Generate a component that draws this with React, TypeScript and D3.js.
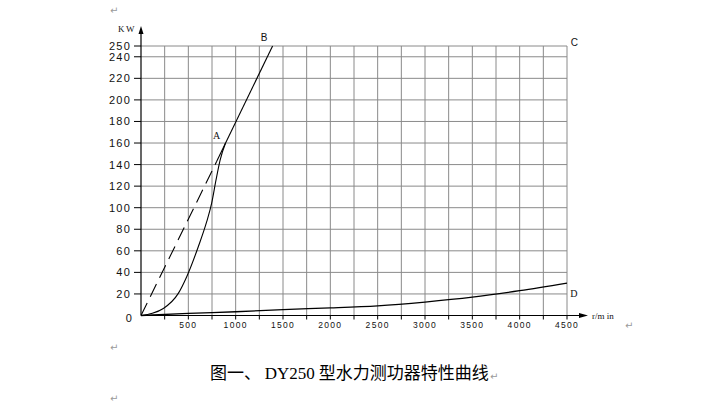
import React from "react";
import * as d3 from "d3";

// ---- data ----
const yTicks = [0, 20, 40, 60, 80, 100, 120, 140, 160, 180, 200, 220, 240, 250];
const yGrid = [20, 40, 60, 80, 100, 120, 140, 160, 180, 200, 220, 240, 250];
const xLabels = [500, 1000, 1500, 2000, 2500, 3000, 3500, 4000, 4500];
const xGrid = d3.range(250, 4501, 250);

// line O-A (dashed) then A-B (solid)
const lineDashRpm = [0, 800];
const lineDashKw = [0, 143];
const lineSolidRpm = [800, 1390];
const lineSolidKw = [143, 250];

// characteristic curve O-A
const curveRpm = [0, 120, 236, 394, 483, 606, 694, 746, 792, 835, 893];
const curveKw = [0, 2, 6.5, 20.5, 36, 64, 87, 104, 125.5, 144, 160];

// minimum load line O-D
const lowRpm = [0, 500, 1000, 1500, 2000, 2500, 3000, 3500, 4000, 4500];
const lowKw = [0, 2, 3.5, 5.5, 7, 9, 12.5, 17, 23, 30];

const pointLabels = [
  { t: "A", rpm: 760, kw: 164 },
  { t: "B", rpm: 1265, kw: 255 },
  { t: "C", rpm: 4540, kw: 250 },
  { t: "D", rpm: 4535, kw: 17 },
];

const caption1 = "图一、 ";
const caption2 = "DY250";
const caption3 = " 型水力测功器特性曲线";

export default function App() {
  const x = d3.scaleLinear().domain([0, 4500]).range([141, 567]);
  const y = d3.scaleLinear().domain([0, 250]).range([315.5, 46]);
  const mk = (rs: number[], ks: number[]) => rs.map((r, i) => [r, ks[i]] as [number, number]);
  const straight = d3.line<[number, number]>().x((d) => x(d[0])).y((d) => y(d[1]));
  const smooth = d3
    .line<[number, number]>()
    .x((d) => x(d[0]))
    .y((d) => y(d[1]))
    .curve(d3.curveMonotoneX);

  const grid = "#8a8a8a";
  const ret = "#9a9a9a";
  return (
    <svg
      width={712}
      height={404}
      style={{ position: "absolute", left: 0, top: 0, background: "#fff" }}
      fontFamily="'Liberation Sans', Arial, sans-serif"
    >
      {/* grid */}
      {xGrid.map((v) => (
        <line key={"gx" + v} x1={x(v)} x2={x(v)} y1={y(250)} y2={y(0)} stroke={grid} strokeWidth={1} />
      ))}
      {yGrid.map((v) => (
        <line key={"gy" + v} x1={x(0)} x2={x(4500)} y1={y(v)} y2={y(v)} stroke={grid} strokeWidth={1} />
      ))}
      {/* axes */}
      <line x1={x(0)} x2={x(0)} y1={y(0)} y2={30} stroke="#000" strokeWidth={1.2} />
      <path d={`M${x(0) - 2.5},${34} L${x(0)},${26} L${x(0) + 2.5},${34} Z`} fill="#000" />
      <line x1={x(0)} x2={583} y1={y(0)} y2={y(0)} stroke="#000" strokeWidth={1.2} />
      <path d={`M${579},${y(0) - 2.5} L${588},${y(0)} L${579},${y(0) + 2.5} Z`} fill="#000" />
      {/* y ticks */}
      {yTicks.map((v) =>
        v === 0 ? null : (
          <line key={"ty" + v} x1={x(0) - 7} x2={x(0)} y1={y(v)} y2={y(v)} stroke="#000" strokeWidth={1} />
        )
      )}
      {yTicks.map((v) => (
        <text
          key={"ly" + v}
          x={v === 0 ? 133 : 131}
          y={y(v) + (v === 0 ? 6 : 4)}
          textAnchor="end"
          fontSize={11}
          letterSpacing={1.2}
          fill="#111"
        >
          {v}
        </text>
      ))}
      {/* x ticks */}
      {xGrid.map((v) => (
        <line key={"tx" + v} x1={x(v)} x2={x(v)} y1={y(0)} y2={y(0) + 4} stroke="#000" strokeWidth={1} />
      ))}
      {xLabels.map((v) => (
        <text
          key={"lx" + v}
          x={x(v)}
          y={y(0) + 12}
          textAnchor="middle"
          fontSize={8.5}
          letterSpacing={1.3}
          fill="#111"
        >
          {v}
        </text>
      ))}
      <text x={118} y={32} fontSize={9} letterSpacing={1.5} fontFamily="'Liberation Serif', serif" fill="#111">
        KW
      </text>
      <text x={592} y={y(0) + 3} fontSize={9} fontFamily="'Liberation Serif', serif" fill="#111">
        r/m in
      </text>
      {/* curves */}
      <path d={straight(mk(lineDashRpm, lineDashKw)) || ""} fill="none" stroke="#000" strokeWidth={1.1} strokeDasharray="14,7" />
      <path d={straight(mk(lineSolidRpm, lineSolidKw)) || ""} fill="none" stroke="#000" strokeWidth={1.1} />
      <path d={smooth(mk(curveRpm, curveKw)) || ""} fill="none" stroke="#000" strokeWidth={1.1} />
      <path d={smooth(mk(lowRpm, lowKw)) || ""} fill="none" stroke="#000" strokeWidth={1.3} />
      {pointLabels.map((p) => (
        <text
          key={p.t}
          x={x(p.rpm)}
          y={y(p.kw)}
          fontSize={10}
          fontFamily={p.t === "A" || p.t === "D" ? "'Liberation Serif', serif" : "'Liberation Sans', sans-serif"}
          fill="#111"
        >
          {p.t}
        </text>
      ))}
      {/* caption */}
      <text x={210} y={379} fontSize={17} fill="#000">
        <tspan fontFamily="'Noto Sans CJK SC', sans-serif">{caption1}</tspan>
        <tspan fontFamily="'Liberation Serif', serif" fontSize={17}>{caption2}</tspan>
        <tspan fontFamily="'Noto Sans CJK SC', sans-serif">{caption3}</tspan>
      </text>
      {/* paragraph marks */}
      {[
        [110, 14],
        [110, 351],
        [110, 402],
        [625, 329],
        [490, 380],
      ].map(([px, py], i) => (
        <text key={"r" + i} x={px} y={py} fontSize={10} fill={ret} fontFamily="'DejaVu Sans', sans-serif">
          ↵
        </text>
      ))}
    </svg>
  );
}
